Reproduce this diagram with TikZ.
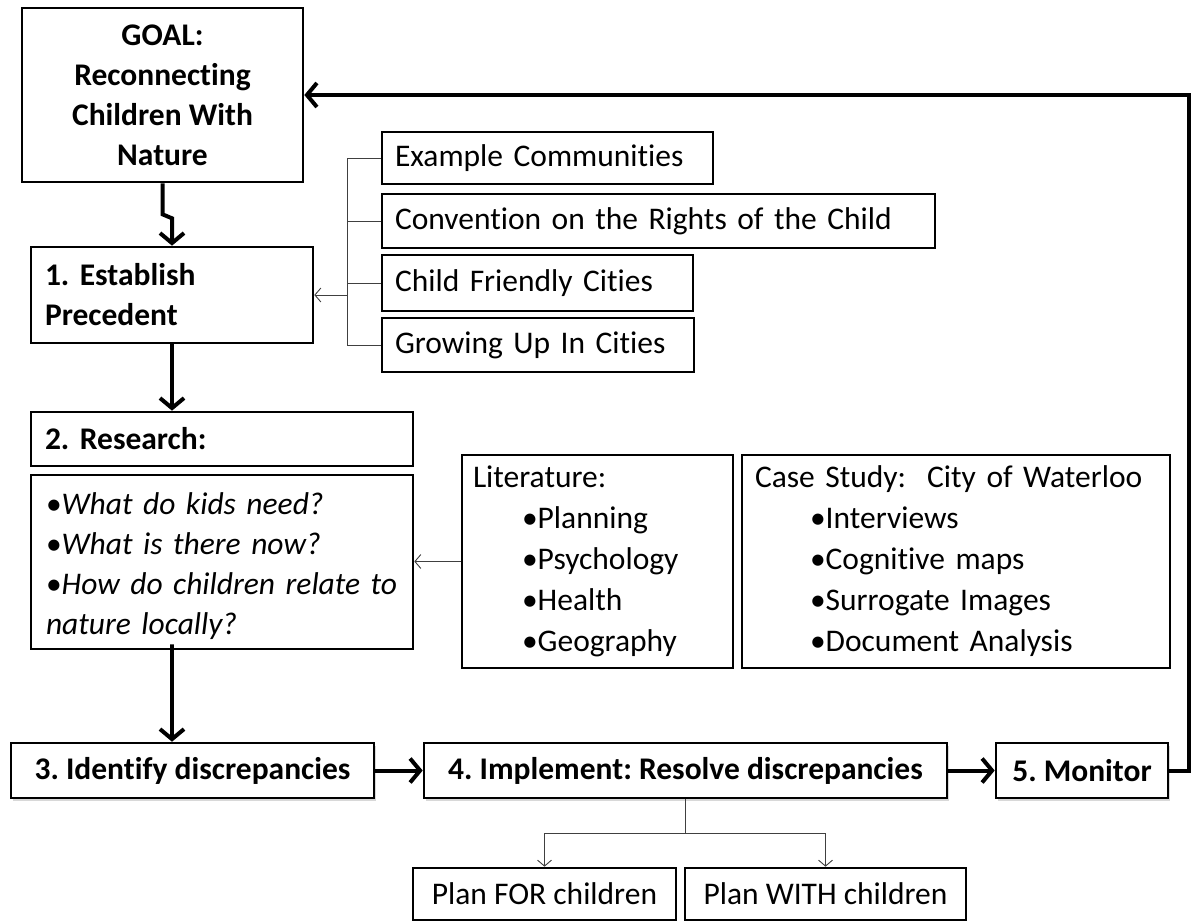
\documentclass[tikz,border=0pt]{standalone}
\usepackage{fontspec}
\setmainfont{Carlito}[RawFeature={-liga}]
\usetikzlibrary{arrows.meta,shadows}
\begin{document}
\frenchspacing
\begin{tikzpicture}[x=1pt,y=-1pt,
 box/.style={draw, line width=2.6pt, inner sep=0pt, font=\fontsize{31.5}{40}\selectfont},
 lbox/.style={box, align=left},
 bbox/.style={box, align=left, font=\fontsize{31.5}{40}\selectfont\bfseries},
 cbox/.style={box, align=center, font=\fontsize{31.5}{40}\selectfont\bfseries},
 shad/.style={drop shadow={shadow xshift=2pt, shadow yshift=-3pt, fill=black!30}},
 heavy/.style={line width=4pt, -{Straight Barb[length=10pt,width=24pt]}},
 light/.style={line width=0.9pt, draw=black!75},
 lightarrow/.style={light, -{Straight Barb[length=6pt,width=14pt]}},
]
\fill[white] (0,0) rectangle (1194,921);
\useasboundingbox (0,0) rectangle (1194,921);

\node[cbox, minimum width=281pt, minimum height=174pt] (goal) at (162.5,95) {GOAL:\\Reconnecting\\Children With\\Nature};
\node[bbox, minimum width=282pt, minimum height=96pt, text width=254pt] (est) at (172,295) {1. Establish\\Precedent};

\node[lbox, minimum width=331pt, minimum height=52pt, text width=305pt] (ex) at (547.5,158) {Example Communities};
\node[lbox, minimum width=553pt, minimum height=54pt, text width=527pt] (cv) at (658.5,221) {Convention on the Rights of the Child};
\node[lbox, minimum width=311pt, minimum height=56pt, text width=285pt] (cf) at (537.5,283) {Child Friendly Cities};
\node[lbox, minimum width=312pt, minimum height=54pt, text width=286pt] (gu) at (538,345) {Growing Up In Cities};

\node[bbox, minimum width=382pt, minimum height=54pt, text width=354pt] (rh) at (222,439) {2. Research:};
\node[lbox, minimum width=382pt, minimum height=174pt, text width=352pt] (rq) at (222,562) {};
\node[align=left, inner sep=0pt, font=\fontsize{31.5}{40}\selectfont, text width=352pt] at (222,566)
 {•\textit{What do kids need?}\\•\textit{What is there now?}\\•\textit{How do children relate to}\\\textit{nature locally?}};

\node[lbox, font=\fontsize{31.5}{41}\selectfont, minimum width=271pt, minimum height=213pt, text width=249pt] (lit) at (597.5,561.5)
 {Literature:\\\hspace*{49pt}•Planning\\\hspace*{49pt}•Psychology\\\hspace*{49pt}•Health\\\hspace*{49pt}•Geography};
\node[lbox, font=\fontsize{31.5}{41}\selectfont, minimum width=428pt, minimum height=213pt, text width=402pt] (cs) at (956,561.5)
 {Case Study:\ \ City of Waterloo\\\hspace*{55pt}•Interviews\\\hspace*{55pt}•Cognitive maps\\\hspace*{55pt}•Surrogate Images\\\hspace*{55pt}•Document Analysis};

\node[cbox, shad, fill=white, minimum width=363pt, minimum height=55pt] (id) at (192.5,770.5) {3. Identify discrepancies};
\node[cbox, shad, fill=white, minimum width=523pt, minimum height=55pt] (im) at (685.5,770.5) {4. Implement: Resolve discrepancies};
\node[cbox, shad, fill=white, minimum width=172pt, minimum height=55pt] (mo) at (1082,770.5) {5. Monitor};

\node[box, align=center, minimum width=263pt, minimum height=52pt] (pf) at (544.5,894) {Plan FOR children};
\node[box, align=center, minimum width=281pt, minimum height=52pt] (pw) at (825.5,894) {Plan WITH children};

% bracket of precedents
\coordinate (bx) at (347,0);
\draw[light] (ex.west) -- (ex.west -| bx) -- (gu.west -| bx) -- (gu.west);
\draw[light] (cv.west) -- (cv.west -| bx);
\draw[light] (cf.west) -- (cf.west -| bx);
\draw[lightarrow] (bx |- est.east) -- (est.east);

% literature to research
\draw[lightarrow] (lit.west) -- (rq.east |- lit.west);

% main flow
\draw[heavy] (goal.south) -- ++(0,31) -- ++(9.5,4) -- (est.north);
\draw[heavy] (est.south) -- (est.south |- rh.north);
\draw[heavy] (rq.south -| est.south) -- ++(0,-6) -- (id.north -| est.south);
\draw[heavy] (id.east) -- (im.west);
\draw[heavy] (im.east) -- (mo.west);
\coordinate (fb) at (1189,95);
\draw[heavy] (mo.east) -| (fb) -- (goal.east);

% implement to plans
\coordinate (sp) at (685.5,833);
\draw[light] (im.south) -- (sp);
\draw[lightarrow] (sp) -| (pf.north);
\draw[lightarrow] (sp) -| (pw.north);
\end{tikzpicture}
\end{document}
